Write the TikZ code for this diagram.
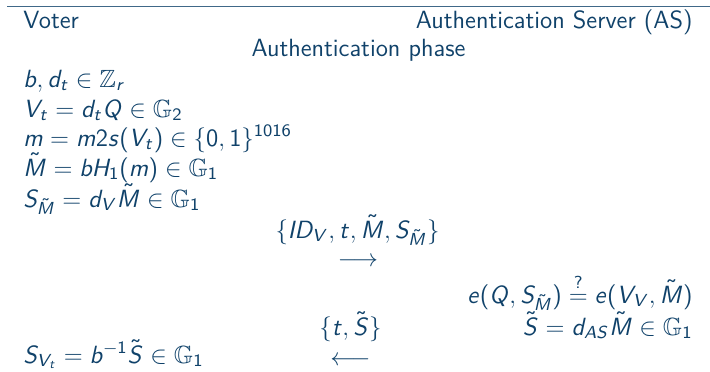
\documentclass[tikz,border=0pt]{standalone}
\usepackage{fix-cm}
\usepackage{amssymb}
\DeclareSymbolFont{operators}{OT1}{cmss}{m}{n}
\SetSymbolFont{operators}{bold}{OT1}{cmss}{bx}{n}
\DeclareSymbolFont{sfit}{OT1}{cmss}{m}{sl}
\def\sfletters#1{\ifx#1\relax\else\DeclareMathSymbol{#1}{\mathalpha}{sfit}{`#1}\expandafter\sfletters\fi}
\sfletters abdemrstADHIMQSV\relax
\definecolor{ink}{RGB}{16,66,106}
\tikzset{
  txt/.style={inner sep=0pt, text=ink, font=\fontsize{12.45}{15}\selectfont\sffamily},
  lft/.style={txt, anchor=base west},
  rgt/.style={txt, anchor=base east},
  mid/.style={txt, anchor=base},
  rule/.style={draw=ink!80, line width=0.5pt}
}
\begin{document}
\begin{tikzpicture}[x=0.5pt,y=-0.5pt]
\useasboundingbox (0,0) rectangle (710,371);
\coordinate (r1) at (7,6);
\coordinate (r2) at (710,6);
\draw[rule] (r1) -- (r2);
\node[lft] (voter) at (23,28) {Voter};
\node[rgt] (as) at (693,28) {Authentication Server (AS)};
\node[mid] (phase) at (358.5,56) {Authentication phase};
\node[lft] (l1) at (23,87) {$b, d_t \in \mathbb{Z}_r$};
\node[lft] (l2) at (23,117) {$V_t = d_t Q \in \mathbb{G}_2$};
\node[lft] (l3) at (23,146) {$m = m2s(V_t) \in \{0,1\}^{1016}$};
\node[lft] (l4) at (23,176) {$\tilde{M} = bH_1(m) \in \mathbb{G}_1$};
\node[lft] (l5) at (23,207) {$S_{\tilde{M}} = d_V\tilde{M} \in \mathbb{G}_1$};
\node[mid] (msg1) at (357.5,238) {$\{ID_V, t, \tilde{M}, S_{\tilde{M}}\}$};
\node[mid] (arr1) at (358,266) {$\longrightarrow$};
\node[rgt] (r3) at (693,303) {$e(Q, S_{\tilde{M}}) \stackrel{?}{=} e(V_V, \tilde{M})$};
\node[mid] (msg2) at (350.5,335) {$\{t, \tilde{S}\}$};
\node[rgt] (r4) at (693,335) {$\tilde{S} = d_{AS}\tilde{M} \in \mathbb{G}_1$};
\node[mid] (arr2) at (350.5,365) {$\longleftarrow$};
\node[lft] (l6) at (23,363) {$S_{V_t} = b^{-1}\tilde{S} \in \mathbb{G}_1$};
\end{tikzpicture}
\end{document}
